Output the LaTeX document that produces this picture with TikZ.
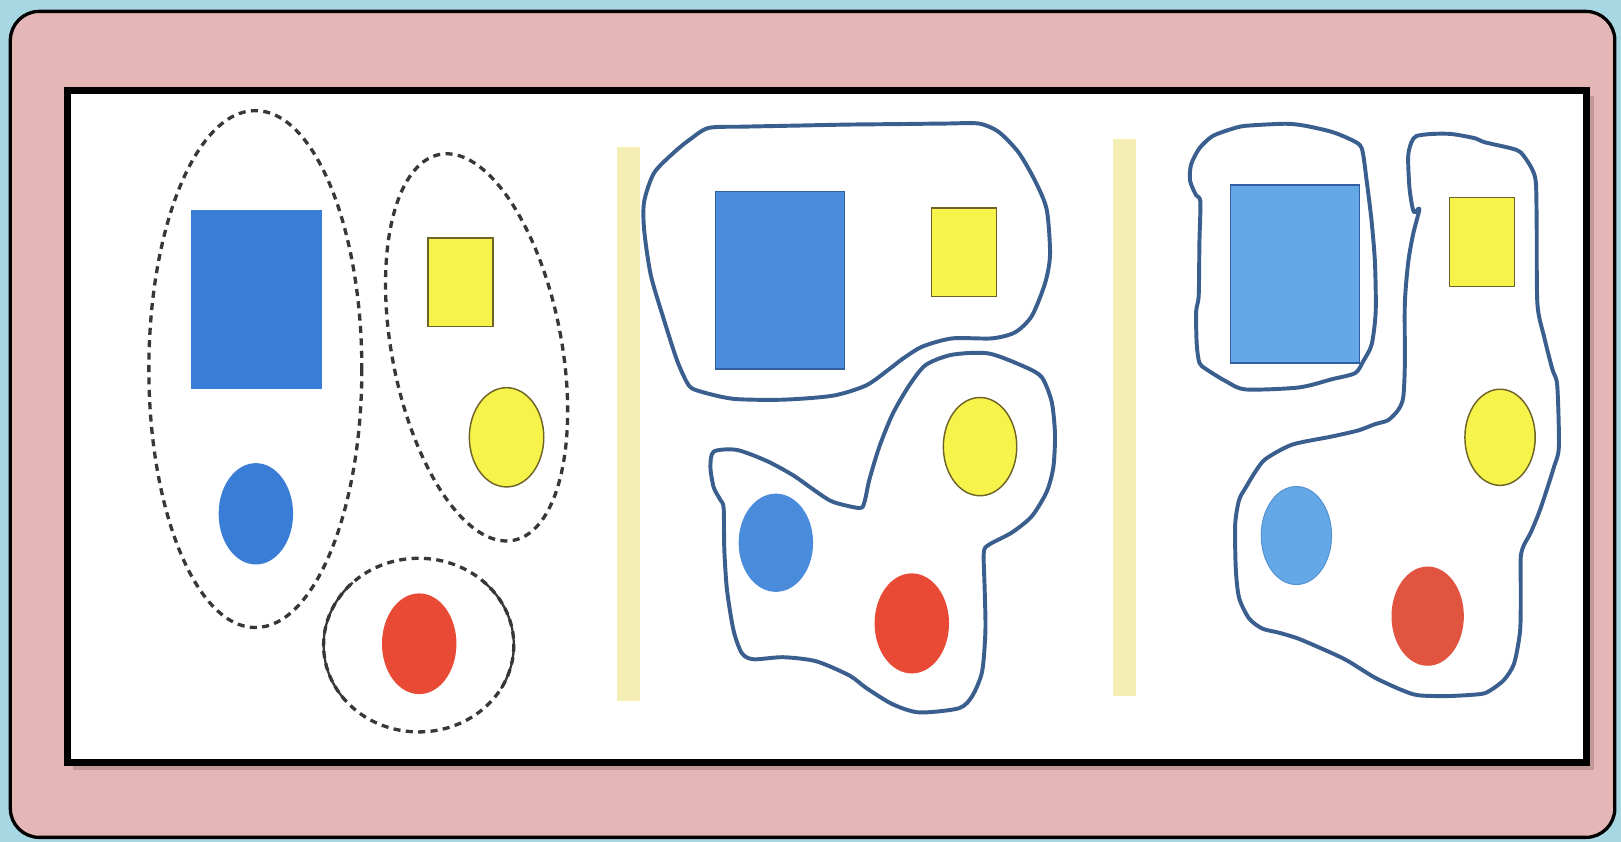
\documentclass[tikz,border=0pt]{standalone}
\usetikzlibrary{calc}
\definecolor{bgblue}{RGB}{167,215,227}
\definecolor{pinkbg}{RGB}{228,182,182}
\definecolor{shadowc}{RGB}{160,125,125}
\definecolor{stripec}{RGB}{244,237,180}
\definecolor{blueA}{RGB}{58,125,214}
\definecolor{blueB}{RGB}{74,139,219}
\definecolor{blueC}{RGB}{100,168,232}
\definecolor{blueedge}{RGB}{50,95,160}
\definecolor{yellowf}{RGB}{246,243,74}
\definecolor{yellowedge}{RGB}{110,100,40}
\definecolor{redf}{RGB}{232,74,53}
\definecolor{redC}{RGB}{225,85,64}
\definecolor{outlinec}{RGB}{58,94,142}
\definecolor{dashc}{RGB}{55,55,55}
\tikzset{
  groupdash/.style={draw=dashc, line width=1.6pt, dash pattern=on 3.4pt off 2.6pt},
  groupsolid/.style={draw=dashc, line width=1.1pt},
  handline/.style={draw=outlinec, line width=1.9pt, line join=round},
  bigblue/.style={draw=blueedge, line width=0.7pt},
  yelshape/.style={fill=yellowf, draw=yellowedge, line width=0.7pt},
  redshape/.style={fill=redf},
  stripe/.style={fill=stripec},
}
\begin{document}
\begin{tikzpicture}[x=0.5pt, y=-0.5pt]
\useasboundingbox (0,0) rectangle (1568,814);
% backgrounds
\fill[bgblue] (0,0) rectangle (1568,814);
\filldraw[fill=pinkbg, draw=black, line width=1.6pt, rounded corners=14pt] (10,11) rectangle (1562,810);
% panel shadow and panel
\fill[shadowc, opacity=0.5] (71,93) rectangle (1542,745);
\filldraw[fill=white, draw=black, line width=3.5pt] (65.5,87.5) rectangle (1534.5,737.5);
% stripes
\fill[stripe] (597,142) rectangle (619,678);
\fill[stripe] (1077,134) rectangle (1099,673);

% ---------- left panel ----------
\fill[blueA] (185,203) rectangle (311,376);
\fill[blueA] (247.5,497) ellipse [x radius=36, y radius=49];
\filldraw[yelshape] (414,230) rectangle (477,316);
\filldraw[yelshape] (490,423) ellipse [x radius=36, y radius=48];
\fill[redshape] (405.5,622.7) ellipse [x radius=36, y radius=48.7];
% groups
\draw[groupdash] (247,357) ellipse [x radius=103, y radius=250];
\draw[groupdash, rotate around={10.8:(461,336)}] (461,336) ellipse [x radius=82, y radius=190];
\draw[groupdash] (405,624) ellipse [x radius=92, y radius=84];
\draw[groupsolid] ($(405,624)+(-134:92 and 84)$) arc[start angle=-134, end angle=-220, x radius=92, y radius=84];
\draw[groupsolid] ($(405,624)+(-47:92 and 84)$) arc[start angle=-47, end angle=30, x radius=92, y radius=84];

% ---------- middle panel ----------
\filldraw[fill=blueB, bigblue] (692,185) rectangle (817,357);
\filldraw[yelshape] (901,201) rectangle (964,287);
\filldraw[yelshape] (948,432) ellipse [x radius=35.5, y radius=47.5];
\fill[blueB] (750.5,525) ellipse [x radius=36, y radius=47.5];
\fill[redshape] (882,603) ellipse [x radius=36, y radius=48.4];
\draw[handline] plot[smooth cycle, tension=0.45] coordinates {
 (685.6,123.7) (720,122.5) (770,121.5) (820,120.5) (870,120) (915,119.5) (946.8,119.5) (966.0,127.6) (985.2,147.4) (1001.3,175.1)
 (1012.5,202.8) (1015.7,246.3) (1010.9,273.9) (998.1,305.6) (982.0,321.4)
 (959.6,327.3) (921.1,327.3) (892.3,335.2) (873.1,347.1) (860.2,357.0)
 (837.8,372.8) (805.8,382.7) (757.7,386.6) (709.6,385.8) (677.6,378.7)
 (666.3,372.8) (655.1,349.1) (642.3,309.5) (629.5,266.0) (623.1,222.5)
 (623.1,194.9) (632.7,167.2) (652.0,147.4) (667.9,134.5)};
\draw[handline] plot[smooth cycle, tension=0.45] coordinates {
 (690.4,436.8) (712.8,435.2) (741.7,445.9) (767.3,459.8) (789.7,475.6)
 (805.8,485.5) (831.4,491.4) (836.2,485.5) (841.0,463.7) (850.6,432.1)
 (863.4,400.5) (879.5,372.8) (895.5,353.0) (921.1,343.1) (956.4,341.9)
 (991.6,355.0) (1007.7,364.9) (1017.3,388.6) (1020.5,420.2) (1018.9,451.9)
 (1012.5,475.6) (998.1,499.3) (978.8,515.1) (956.4,527.0) (951.6,534.9)
 (952.5,570.5) (953.2,610.0) (950.0,649.6) (940.4,673.3) (927.5,685.1)
 (889.1,689.1) (863.4,681.2) (837.8,665.4) (821.8,653.5) (789.7,639.7)
 (757.7,635.7) (728.8,637.7) (717.6,631.8) (709.6,610.0) (703.2,570.5)
 (700.6,530.9) (700.0,491.4) (696.8,483.5) (690.4,471.6) (687.2,451.9)};

% ---------- right panel ----------
\filldraw[fill=blueC, bigblue] (1190,179) rectangle (1315,351);
\filldraw[yelshape] (1402,191) rectangle (1465,277);
\filldraw[yelshape] (1451,423) ellipse [x radius=34, y radius=46.5];
\filldraw[fill=blueC, draw=blueC!70!blueedge, line width=0.5pt] (1254,518) ellipse [x radius=34, y radius=47.4];
\fill[redC] (1381,596) ellipse [x radius=35, y radius=48];
\draw[handline] plot[smooth cycle, tension=0.45] coordinates {
 (1160.2,143.4) (1152.1,159.3) (1151.2,175.1) (1157.0,188.9) (1161.1,194.9)
 (1160.2,234.4) (1159.5,285.8) (1157.0,301.6) (1157.6,333.2) (1160.2,351.0)
 (1166.6,357.0) (1185.8,368.8) (1205.0,376.7) (1256.3,374.8) (1288.4,366.8)
 (1310.8,360.9) (1318.8,349.1) (1326.8,333.2) (1330.7,301.6) (1330.0,254.2)
 (1326.8,214.6) (1322.0,175.1) (1317.2,143.4) (1307.6,135.5) (1288.4,127.6)
 (1262.7,121.7) (1243.5,119.7) (1205.0,121.7) (1192.2,124.5) (1173.0,131.6)};
\draw[handline] plot[smooth cycle, tension=0.45] coordinates {
 (1370.1,131.6) (1384.5,129.6) (1403.7,129.6) (1426.2,133.6) (1435.8,137.5)
 (1461.4,143.4) (1471.0,147.4) (1480.7,161.2) (1485.5,175.1) (1486.4,214.6)
 (1487.1,293.7) (1493.5,325.3) (1501.5,357.0) (1506.3,372.8) (1507.9,432.1)
 (1503.1,451.9) (1490.3,491.4) (1480.7,515.1) (1474.2,527.0) (1471.0,538.8)
 (1471.0,570.5) (1470.4,610.0) (1464.6,641.7) (1455.0,657.5) (1442.2,667.4)
 (1432.6,671.3) (1400.5,673.3) (1371.7,672.5) (1355.7,667.4) (1330.0,655.5)
 (1304.4,639.7) (1288.4,631.8) (1256.3,617.9) (1237.1,612.0) (1221.0,608.0)
 (1208.2,598.2) (1198.6,578.4) (1195.4,550.7) (1194.8,507.2) (1198.6,483.5)
 (1205.0,471.6) (1214.6,455.8) (1224.3,443.9) (1249.9,430.1) (1288.4,422.2)
 (1314.0,416.3) (1330.0,410.3) (1342.8,406.4) (1352.5,396.5) (1357.3,384.6)
 (1358.9,353.0) (1358.9,293.7) (1362.1,254.2) (1366.9,226.5) (1373.0,202.0)
 (1367.5,205.0) (1363.5,183.0) (1362.1,151.4) (1365.3,137.5)};
\end{tikzpicture}
\end{document}
